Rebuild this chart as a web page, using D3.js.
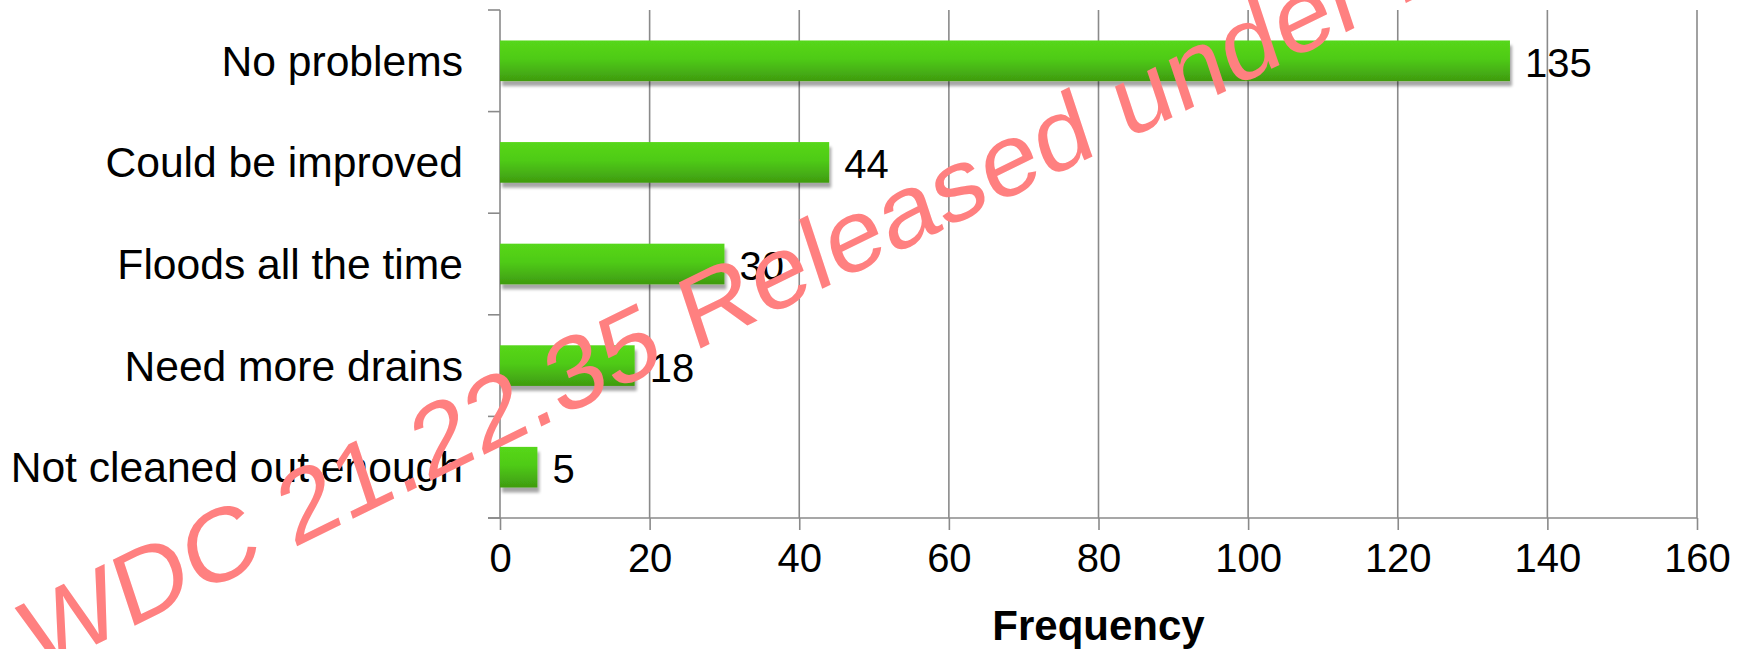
<!DOCTYPE html>
<html>
<head>
<meta charset="utf-8">
<script src="https://cdn.jsdelivr.net/npm/d3@7"></script>
<style>
  html, body { margin: 0; padding: 0; background: #fff; }
  svg { display: block; }
  text { font-family: "Liberation Sans", Arial, sans-serif; }
</style>
</head>
<body>
<svg id="chart" width="1750" height="649"></svg>
<script>
// Survey responses about drains
const categories = ["No problems", "Could be improved", "Floods all the time", "Need more drains", "Not cleaned out enough"];
const frequencies = [135, 44, 30, 18, 5];
const xTicks = [0, 20, 40, 60, 80, 100, 120, 140, 160];
const xTitle = "Frequency";
const stampText = "WDC 21.22.35 Released under LGOIMA";

const W = 1750, H = 649;
const margin = { top: 10, right: 53, bottom: 131, left: 500 };
const innerW = W - margin.left - margin.right;
const innerH = H - margin.top - margin.bottom;

const svg = d3.select("#chart");
const defs = svg.append("defs");

const grad = defs.append("linearGradient")
  .attr("id", "barFill").attr("x1", 0).attr("y1", 0).attr("x2", 0).attr("y2", 1);
grad.append("stop").attr("offset", "0%").attr("stop-color", "#56d71a");
grad.append("stop").attr("offset", "45%").attr("stop-color", "#4fcb17");
grad.append("stop").attr("offset", "100%").attr("stop-color", "#3f9b10");

const shadow = defs.append("filter").attr("id", "barShadow")
  .attr("x", "-5%").attr("y", "-20%").attr("width", "115%").attr("height", "160%");
shadow.append("feGaussianBlur").attr("in", "SourceAlpha").attr("stdDeviation", 1.6).attr("result", "b");
shadow.append("feOffset").attr("in", "b").attr("dx", 2).attr("dy", 5).attr("result", "o");
shadow.append("feComponentTransfer").attr("in", "o").attr("result", "s")
  .append("feFuncA").attr("type", "linear").attr("slope", 0.35);
const merge = shadow.append("feMerge");
merge.append("feMergeNode").attr("in", "s");
merge.append("feMergeNode").attr("in", "SourceGraphic");

const g = svg.append("g").attr("transform", `translate(${margin.left},${margin.top})`);

const x = d3.scaleLinear().domain([0, 160]).range([0, innerW]);
const y = d3.scaleBand().domain(categories).range([0, innerH]).padding(0);

const gridColor = "#8a8a8a";

// vertical gridlines
g.append("g")
  .selectAll("line")
  .data(xTicks.filter(d => d > 0))
  .join("line")
  .attr("x1", d => x(d)).attr("x2", d => x(d))
  .attr("y1", 0).attr("y2", innerH)
  .attr("stroke", gridColor).attr("stroke-width", 1.6);

// x axis
const xAxis = g.append("g")
  .attr("transform", `translate(0,${innerH})`)
  .call(d3.axisBottom(x).tickValues(xTicks).tickSize(12).tickPadding(14).tickSizeOuter(0));
xAxis.select(".domain").remove();
xAxis.append("line").attr("x1", -12).attr("x2", innerW).attr("y1", 0).attr("y2", 0)
  .attr("stroke", gridColor).attr("stroke-width", 1.6);
xAxis.selectAll(".tick line").attr("stroke", gridColor).attr("stroke-width", 1.6);
xAxis.selectAll(".tick text")
  .attr("fill", "#000").attr("font-size", 40)
  .attr("font-family", "'Liberation Sans', Arial, sans-serif")
  .attr("dy", "0.71em");

// y axis: line with ticks at the category boundaries
const yAxis = g.append("g");
yAxis.append("line").attr("x1", 0).attr("x2", 0).attr("y1", 0).attr("y2", innerH)
  .attr("stroke", gridColor).attr("stroke-width", 1.6);
const boundaries = categories.map(c => y(c)).concat([innerH]);
yAxis.selectAll("line.tk").data(boundaries).join("line").attr("class", "tk")
  .attr("x1", -12).attr("x2", 0).attr("y1", d => d).attr("y2", d => d)
  .attr("stroke", gridColor).attr("stroke-width", 1.6);
yAxis.selectAll("text").data(categories).join("text")
  .attr("x", -37)
  .attr("y", d => y(d) + y.bandwidth() / 2 + 15)
  .attr("text-anchor", "end")
  .attr("font-size", 42.6)
  .attr("fill", "#000")
  .text(d => d);

// bars
const barH = y.bandwidth() * 0.4;
const rows = categories.map((c, i) => ({ c, v: frequencies[i] }));
g.append("g").selectAll("rect").data(rows).join("rect")
  .attr("x", 0)
  .attr("y", d => y(d.c) + (y.bandwidth() - barH) / 2)
  .attr("width", d => x(d.v))
  .attr("height", barH)
  .attr("fill", "url(#barFill)")
  .attr("filter", "url(#barShadow)");

// value labels
g.append("g").selectAll("text").data(rows).join("text")
  .attr("x", d => x(d.v) + 15)
  .attr("y", d => y(d.c) + y.bandwidth() / 2 + 16)
  .attr("font-size", 40)
  .attr("fill", "#000")
  .text(d => d.v);

// axis title
svg.append("text")
  .attr("x", margin.left + innerW / 2)
  .attr("y", 640)
  .attr("text-anchor", "middle")
  .attr("font-size", 42)
  .attr("font-weight", "bold")
  .attr("fill", "#000")
  .text(xTitle);

// release stamp across the chart (slanted, slightly sheared)
svg.append("text")
  .attr("transform", "translate(36,674) rotate(-26.1) skewX(-7.8) scale(1.07,1)")
  .attr("font-size", 100)
  .attr("fill", "#ff8080")
  .text(stampText);
</script>
</body>
</html>
